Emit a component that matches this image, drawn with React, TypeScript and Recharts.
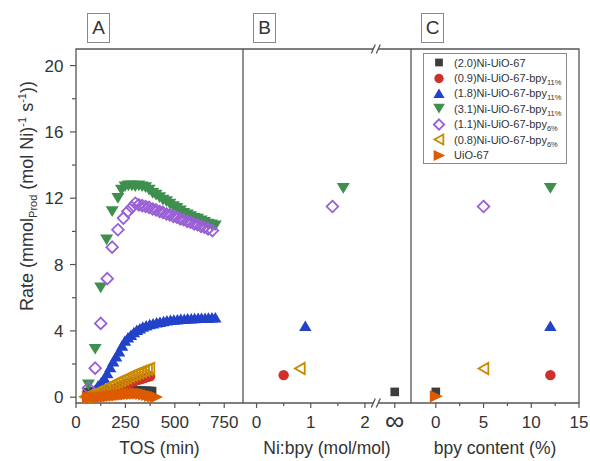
import { ScatterChart, Scatter, XAxis, YAxis, ReferenceArea, ReferenceDot, Legend, Label } from "recharts";

const FONT = "'Liberation Sans', Arial, sans-serif";
const INK = "#333333";
const FRAME = "#555555";

type Pt = [number, number];

// Panel A: rate vs time on stream (TOS min, rate)
const tosNi20: Pt[] = [
  [55, 0.3], [70, 0.33], [85, 0.35], [100, 0.36], [115, 0.37], [130, 0.38], [145, 0.39], [160, 0.4],
  [175, 0.4], [190, 0.41], [205, 0.41], [220, 0.42], [235, 0.42], [250, 0.42], [265, 0.42], [280, 0.42],
  [295, 0.41], [310, 0.41], [325, 0.4], [340, 0.4], [355, 0.39], [370, 0.38], [385, 0.37],
];
const tosNi09b11: Pt[] = [
  [60, 0.0], [75, 0.03], [90, 0.07], [105, 0.12], [120, 0.18], [135, 0.24], [150, 0.3], [165, 0.37],
  [180, 0.44], [195, 0.5], [210, 0.57], [225, 0.64], [240, 0.71], [255, 0.78], [270, 0.85], [285, 0.92],
  [300, 0.98], [315, 1.05], [330, 1.1], [345, 1.16], [360, 1.21], [375, 1.26],
];
const tosNi18b11: Pt[] = [
  [63, 0.1], [80, 0.25], [97, 0.45], [112, 0.7], [128, 0.9], [143, 1.15], [158, 1.45], [173, 1.8],
  [188, 2.15], [203, 2.45], [218, 2.75], [233, 3.1], [248, 3.4], [263, 3.6], [278, 3.75], [293, 3.92],
  [308, 4.05], [323, 4.15], [338, 4.25], [355, 4.32], [373, 4.4], [390, 4.45], [408, 4.5], [425, 4.54],
  [443, 4.58], [460, 4.62], [478, 4.65], [495, 4.67], [513, 4.69], [530, 4.71], [548, 4.72], [565, 4.74],
  [583, 4.75], [600, 4.76], [618, 4.77], [635, 4.78], [653, 4.78], [670, 4.79], [688, 4.8], [705, 4.8],
];
const tosNi31b11: Pt[] = [
  [63, 0.75], [97, 2.9], [125, 6.6], [155, 9.5], [183, 11.2], [212, 12.0], [230, 12.5], [248, 12.7],
  [265, 12.75], [283, 12.75], [300, 12.7], [318, 12.75], [335, 12.7], [352, 12.65], [370, 12.5], [388, 12.3],
  [405, 12.2], [423, 12.05], [440, 11.9], [458, 11.8], [475, 11.65], [493, 11.5], [510, 11.4], [528, 11.25],
  [545, 11.1], [563, 11.0], [580, 10.9], [598, 10.8], [615, 10.75], [633, 10.65], [650, 10.55], [668, 10.45],
  [685, 10.4], [705, 10.35],
];
const tosNi11b6: Pt[] = [
  [63, 0.55], [97, 1.75], [125, 4.45], [158, 7.15], [183, 9.05], [212, 10.1], [240, 10.8], [262, 11.2],
  [283, 11.45], [300, 11.7], [318, 11.6], [335, 11.55], [352, 11.5], [370, 11.45], [388, 11.35], [405, 11.3],
  [423, 11.2], [440, 11.15], [458, 11.05], [475, 11.0], [493, 10.9], [510, 10.85], [528, 10.75], [545, 10.7],
  [563, 10.6], [580, 10.55], [598, 10.45], [615, 10.4], [633, 10.3], [650, 10.25], [668, 10.15], [690, 10.05],
];
const tosNi08b6: Pt[] = [
  [45, 0.02], [60, 0.08], [75, 0.15], [90, 0.22], [105, 0.3], [120, 0.38], [135, 0.47], [150, 0.56],
  [165, 0.65], [180, 0.74], [195, 0.83], [210, 0.92], [225, 1.0], [240, 1.08], [255, 1.17], [270, 1.25],
  [285, 1.33], [300, 1.4], [315, 1.48], [330, 1.55], [345, 1.62], [360, 1.68], [372, 1.74],
];
const tosUiO: Pt[] = [
  [60, 0.0], [80, 0.0], [100, 0.0], [120, 0.0], [135, 0.02], [150, 0.04], [165, 0.06], [180, 0.08],
  [195, 0.1], [210, 0.12], [225, 0.14], [240, 0.16], [255, 0.18], [270, 0.2], [285, 0.21], [300, 0.22],
  [315, 0.22], [330, 0.21], [345, 0.18], [360, 0.14], [375, 0.09], [390, 0.05], [405, 0.01],
];

// Panels B and C: steady-state rate per catalyst (UiO-67 has no Ni, so not in B)
const INF = 2.55; // position of the "∞" tick on the broken Ni:bpy axis
const nibpyRatio = [INF, 0.5, 0.9, 1.6, 1.4, 0.8];
const bpyContent = [0, 12, 12, 12, 5, 5, 0];
const steadyRate = [0.32, 1.33, 4.3, 12.6, 11.5, 1.73, 0.05];

const seriesNames = ["(2.0)Ni-UiO-67", "(0.9)Ni-UiO-67-bpy", "(1.8)Ni-UiO-67-bpy", "(3.1)Ni-UiO-67-bpy", "(1.1)Ni-UiO-67-bpy", "(0.8)Ni-UiO-67-bpy", "UiO-67"];
const seriesSubs = ["", "11%", "11%", "11%", "6%", "6%", ""];
const seriesColors = ["#3d3d3d", "#d0302c", "#2142c9", "#3f8f4f", "#9a5fd6", "#c98a00", "#dd5a00"];
const seriesShapes = ["square", "circle", "up", "down", "diamond", "left", "right"];
const tosData = [tosNi20, tosNi09b11, tosNi18b11, tosNi31b11, tosNi11b6, tosNi08b6, tosUiO];

const yTicks = [0, 2, 4, 6, 8, 10, 12, 14, 16, 18, 20];
const yLabels = [0, 4, 8, 12, 16, 20];
const tosTicks = [0, 125, 250, 375, 500, 625, 750];
const tosLabels = [0, 250, 500, 750];
const ratioTicks = [0, 0.5, 1, 1.5, 2, INF];
const ratioLabels = [0, 1, 2, INF];
const bpyTicks = [0, 2.5, 5, 7.5, 10, 12.5, 15];
const bpyLabels = [0, 5, 10, 15];

const Y_DOMAIN: [number, number] = [-0.35, 21];
const TICK_FS = 17;

function Marker({ cx, cy, shape, color, s = 1 }: any) {
  if (cx == null || cy == null) return null;
  switch (shape) {
    case "square":
      return <rect x={cx - 4.3 * s} y={cy - 4.3 * s} width={8.6 * s} height={8.6 * s} fill={color} />;
    case "circle":
      return <circle cx={cx} cy={cy} r={5.2 * s} fill={color} />;
    case "up":
      return <polygon points={`${cx},${cy - 5.5 * s} ${cx - 6.2 * s},${cy + 5 * s} ${cx + 6.2 * s},${cy + 5 * s}`} fill={color} />;
    case "down":
      return <polygon points={`${cx - 6.5 * s},${cy - 5.2 * s} ${cx + 6.5 * s},${cy - 5.2 * s} ${cx},${cy + 5.5 * s}`} fill={color} />;
    case "diamond":
      return <polygon points={`${cx},${cy - 5.8 * s} ${cx + 5.8 * s},${cy} ${cx},${cy + 5.8 * s} ${cx - 5.8 * s},${cy}`} fill="none" stroke={color} strokeWidth={1.8} />;
    case "left":
      return <polygon points={`${cx - 5 * s},${cy} ${cx + 4.8 * s},${cy - 5.6 * s} ${cx + 4.8 * s},${cy + 5.6 * s}`} fill="none" stroke={color} strokeWidth={1.8} />;
    default:
      return <polygon points={`${cx - 6 * s},${cy - 6.2 * s} ${cx - 6 * s},${cy + 6.2 * s} ${cx + 7 * s},${cy}`} fill={color} />;
  }
}

function makeXTick(labels: number[], fmt: (v: number) => string = String) {
  return (props: any) => {
    const { x, y, payload } = props;
    const v = payload.value;
    const major = labels.includes(v);
    const inf = v === INF;
    return (
      <g>
        <line x1={x} x2={x} y1={y} y2={y + (major ? 5 : 3)} stroke={FRAME} strokeWidth={1.2} />
        {major && (
          <text x={x} y={y + (inf ? 27 : 24.8)} textAnchor="middle" fontSize={inf ? 27 : TICK_FS} fill={INK} fontFamily={FONT}>
            {fmt(v)}
          </text>
        )}
      </g>
    );
  };
}

const YTick = (props: any) => {
  const { x, y, payload } = props;
  const major = yLabels.includes(payload.value);
  return (
    <g>
      <line x1={x - (major ? 6 : 4)} x2={x} y1={y} y2={y} stroke={FRAME} strokeWidth={1.2} />
      {major && (
        <text x={x - 12.5} y={y + 6} textAnchor="end" fontSize={TICK_FS} fill={INK} fontFamily={FONT}>
          {payload.value}
        </text>
      )}
    </g>
  );
};

const axisTitle = (text: string) => (props: any) => {
  const vb = props.viewBox || {};
  return (
    <text x={vb.x + vb.width / 2} y={vb.y + 51} textAnchor="middle" fontSize={17.5} fill={INK} fontFamily={FONT}>
      {text}
    </text>
  );
};

const RateTitle = () => (
  <text transform="translate(32.5,196) rotate(-90)" textAnchor="middle" fontSize={18} fill={INK} fontFamily={FONT}>
    Rate (mmol
    <tspan dy={4} fontSize={11}>Prod</tspan>
    <tspan dy={-4}> (mol Ni)</tspan>
    <tspan dy={-7} fontSize={11}>-1</tspan>
    <tspan dy={7}> s</tspan>
    <tspan dy={-7} fontSize={11}>-1</tspan>
    <tspan dy={7}>))</tspan>
  </text>
);

const BreakMark = (props: any) => {
  const { cx, cy } = props;
  if (cx == null) return null;
  return (
    <g>
      <rect x={cx - 2.5} y={cy - 2} width={5} height={4} fill="#fff" />
      <line x1={cx - 4.5} y1={cy + 4.5} x2={cx - 0.5} y2={cy - 4.5} stroke={FRAME} strokeWidth={1.3} />
      <line x1={cx + 0.5} y1={cy + 4.5} x2={cx + 4.5} y2={cy - 4.5} stroke={FRAME} strokeWidth={1.3} />
    </g>
  );
};

const LegendBox = () => (
  <div style={{ border: "1px solid #8a8a8a", width: 144, height: 111, boxSizing: "border-box", paddingTop: 1, fontFamily: FONT, fontSize: 11, color: INK, background: "#fff" }}>
    {seriesNames.map((n, i) => (
      <div key={i} style={{ display: "flex", alignItems: "center", height: 15.4, whiteSpace: "nowrap" }}>
        <svg width={30} height={15} style={{ flex: "none" }}>
          <Marker cx={15} cy={7.5} shape={seriesShapes[i]} color={seriesColors[i]} s={0.9} />
        </svg>
        <span>
          {n}
          {seriesSubs[i] && <span style={{ fontSize: 7.5, position: "relative", top: 3 }}>{seriesSubs[i]}</span>}
        </span>
      </div>
    ))}
  </div>
);

const PanelTag = ({ left, text }: { left: number; text: string }) => (
  <div style={{ position: "absolute", left, top: 13, width: 23, height: 30, boxSizing: "border-box", border: "1px solid #888", fontFamily: FONT, fontSize: 19, color: INK, textAlign: "center", lineHeight: "28px" }}>
    {text}
  </div>
);

const toXY = (pts: Pt[]) => pts.map(([x, y]) => ({ x, y }));
const frame = { fill: "none", stroke: FRAME, strokeWidth: 1.3, fillOpacity: 0 };

export default function App() {
  const bData = nibpyRatio.map((x, i) => [{ x, y: steadyRate[i] }]);
  const cData = bpyContent.map((x, i) => [{ x, y: steadyRate[i] }]);

  return (
    <div style={{ position: "absolute", left: 0, top: 0, width: 590, height: 461, background: "#fff", fontFamily: FONT, overflow: "hidden" }}>
      {/* A: rate vs TOS */}
      <div style={{ position: "absolute", left: 0, top: 0 }}>
        <ScatterChart width={243} height={461} margin={{ top: 49, right: 0, bottom: 0, left: 0 }}>
          <XAxis type="number" dataKey="x" domain={[0, 845]} ticks={tosTicks} interval={0} height={58} tickSize={0} tickMargin={0} axisLine={false} tick={makeXTick(tosLabels)}>
            <Label content={axisTitle("TOS (min)")} />
          </XAxis>
          <YAxis type="number" dataKey="y" domain={Y_DOMAIN} ticks={yTicks} interval={0} width={76} tickSize={0} tickMargin={0} axisLine={false} tick={YTick}>
            <Label content={RateTitle} />
          </YAxis>
          <ReferenceArea x1={0} x2={845} y1={Y_DOMAIN[0]} y2={Y_DOMAIN[1]} {...frame} />
          {tosData.map((d, i) => (
            <Scatter key={i} name={seriesNames[i]} data={toXY(d)} isAnimationActive={false}
              shape={(p: any) => <Marker cx={p.cx} cy={p.cy} shape={seriesShapes[i]} color={seriesColors[i]} />} />
          ))}
        </ScatterChart>
      </div>

      {/* B: rate vs Ni:bpy */}
      <div style={{ position: "absolute", left: 243, top: 0 }}>
        <ScatterChart width={168} height={461} margin={{ top: 49, right: 0, bottom: 0, left: 0 }}>
          <XAxis type="number" dataKey="x" domain={[-0.25, 2.85]} ticks={ratioTicks} interval={0} height={58} tickSize={0} tickMargin={0} axisLine={false}
            tick={makeXTick(ratioLabels, (v) => (v === INF ? "∞" : String(v)))}>
            <Label content={axisTitle("Ni:bpy (mol/mol)")} />
          </XAxis>
          <YAxis type="number" dataKey="y" domain={Y_DOMAIN} hide />
          <ReferenceArea x1={-0.25} x2={2.85} y1={Y_DOMAIN[0]} y2={Y_DOMAIN[1]} {...frame} />
          {bData.map((d, i) => (
            <Scatter key={i} data={d} isAnimationActive={false}
              shape={(p: any) => <Marker cx={p.cx} cy={p.cy} shape={seriesShapes[i]} color={seriesColors[i]} />} />
          ))}
          <ReferenceDot x={2.2} y={Y_DOMAIN[1]} shape={BreakMark} />
          <ReferenceDot x={2.2} y={Y_DOMAIN[0]} shape={BreakMark} />
        </ScatterChart>
      </div>

      {/* C: rate vs bpy content */}
      <div style={{ position: "absolute", left: 411, top: 0 }}>
        <ScatterChart width={179} height={461} margin={{ top: 49, right: 11, bottom: 0, left: 0 }}>
          <XAxis type="number" dataKey="x" domain={[-2.6, 15]} ticks={bpyTicks} interval={0} height={58} tickSize={0} tickMargin={0} axisLine={false} tick={makeXTick(bpyLabels)}>
            <Label content={axisTitle("bpy content (%)")} />
          </XAxis>
          <YAxis type="number" dataKey="y" domain={Y_DOMAIN} hide />
          <ReferenceArea x1={-2.6} x2={15} y1={Y_DOMAIN[0]} y2={Y_DOMAIN[1]} {...frame} />
          {cData.map((d, i) => (
            <Scatter key={i} data={d} isAnimationActive={false}
              shape={(p: any) => <Marker cx={p.cx} cy={p.cy} shape={seriesShapes[i]} color={seriesColors[i]} />} />
          ))}
          <Legend layout="vertical" align="center" verticalAlign="middle" content={LegendBox}
            wrapperStyle={{ left: 12, top: 53, width: 144, height: 111 }} />
        </ScatterChart>
      </div>

      <PanelTag left={87} text="A" />
      <PanelTag left={253} text="B" />
      <PanelTag left={421} text="C" />
    </div>
  );
}
